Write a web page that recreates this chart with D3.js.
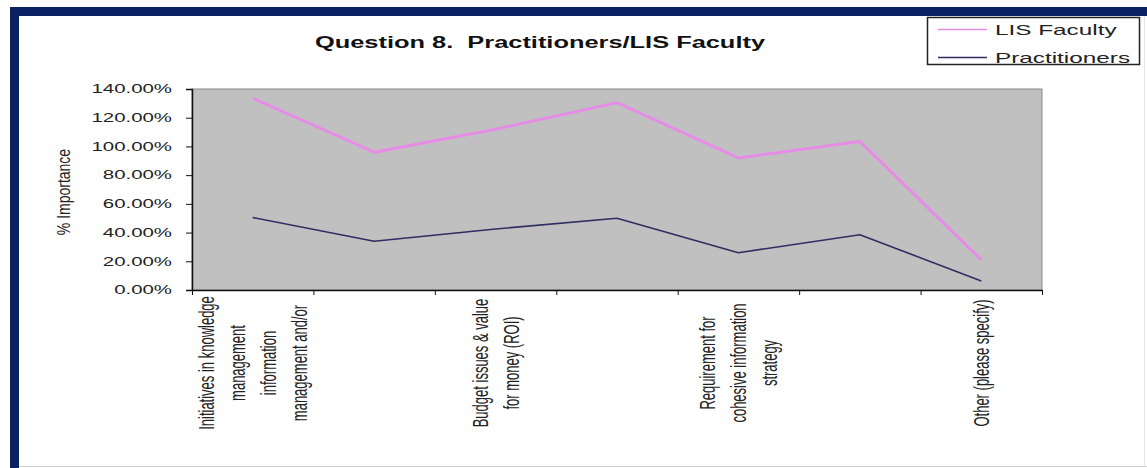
<!DOCTYPE html>
<html>
<head>
<meta charset="utf-8">
<script src="https://cdn.jsdelivr.net/npm/d3@7"></script>
<style>
  html, body { margin: 0; padding: 0; background: #fff; }
  svg { display: block; }
  text { font-family: "Liberation Sans", Arial, sans-serif; }
</style>
</head>
<body>
<svg id="chart" width="1147" height="468"></svg>
<script>
// ---- data ----
const title = "Question 8.  Practitioners/LIS Faculty";
const yAxisTitle = "% Importance";
const categoryLines = [
  ["Initiatives in knowledge", "management", "information", "management and/or"],
  [],
  ["Budget issues & value", "for money (ROI)"],
  [],
  ["Requirement for", "cohesive information", "strategy"],
  [],
  ["Other (please specify)"]
];
const seriesNames = ["LIS Faculty", "Practitioners"];
const lisFaculty    = [133.5, 96, 112, 130.5, 92, 103.5, 21];
const practitioners = [50.5, 34, 42.5, 50, 26, 38.5, 6.3];
const yTicks = [0, 20, 40, 60, 80, 100, 120, 140];

// ---- layout ----
const svg = d3.select("#chart");
const W = 1147, H = 468;
const plot = { left: 192, right: 1042, top: 89, bottom: 290 };
const colors = { lis: "#e68ce6", prac: "#2e2e62", navy: "#0b2262", plotBg: "#c0c0c0" };

function stretch(sel, k) {
  sel.each(function () {
    const L = this.getComputedTextLength();
    this.setAttribute("textLength", L * k);
    this.setAttribute("lengthAdjust", "spacingAndGlyphs");
  });
}

// frame
svg.append("rect").attr("x", 0).attr("y", 0).attr("width", W).attr("height", H).attr("fill", "#fff");
svg.append("rect").attr("x", 10).attr("y", 7).attr("width", W - 10).attr("height", 9).attr("fill", colors.navy);
svg.append("rect").attr("x", 10).attr("y", 7).attr("width", 9).attr("height", H - 7).attr("fill", colors.navy);
svg.append("line").attr("x1", 19).attr("x2", W).attr("y1", 466.5).attr("y2", 466.5).attr("stroke", "#cfcfcf");
svg.append("line").attr("x1", 1144.5).attr("x2", 1144.5).attr("y1", 16).attr("y2", 467).attr("stroke", "#e4e4e4");

// scales
const n = lisFaculty.length;
const x = d3.scaleBand().domain(d3.range(n)).range([plot.left, plot.right]).padding(0);
const y = d3.scaleLinear().domain([0, 140]).range([plot.bottom, plot.top]);
const cx = i => x(i) + x.bandwidth() / 2;

// plot area
svg.append("rect")
  .attr("x", plot.left).attr("y", plot.top)
  .attr("width", plot.right - plot.left).attr("height", plot.bottom - plot.top)
  .attr("fill", colors.plotBg).attr("stroke", "#8a8a8a").attr("stroke-width", 1);

// y axis
const yAxis = d3.axisLeft(y).tickValues(yTicks).tickSize(6).tickPadding(14)
  .tickFormat(d => d.toFixed(2) + "%");
const gy = svg.append("g").attr("transform", `translate(${plot.left},0)`).call(yAxis);
gy.select(".domain").attr("stroke", "#111").attr("stroke-width", 1.5);
gy.selectAll(".tick line").attr("stroke", "#111");
gy.selectAll(".tick text").attr("font-size", 12).attr("fill", "#222")
  .attr("font-family", "'Liberation Sans', Arial, sans-serif").call(stretch, 1.7);

// x axis (ticks at category boundaries)
const xTickVals = d3.range(n + 1).map(i => plot.left + i * x.bandwidth());
const xl = d3.scaleLinear().domain([plot.left, plot.right]).range([plot.left, plot.right]);
const gx = svg.append("g").attr("transform", `translate(0,${plot.bottom})`)
  .call(d3.axisBottom(xl).tickValues(xTickVals).tickSize(5).tickSizeOuter(0).tickFormat(""));
gx.select(".domain").attr("stroke", "#111").attr("stroke-width", 1.5);
gx.selectAll(".tick line").attr("stroke", "#111");

// category labels (rotated, wrapped)
const lineGap = 31, labelCenterY = 363;
categoryLines.forEach((lines, i) => {
  const m = lines.length;
  lines.forEach((t, j) => {
    const lx = cx(i) + (j - (m - 1) / 2) * lineGap;
    svg.append("text")
      .attr("transform", `translate(${lx},${labelCenterY}) rotate(-90) scale(1,1.7)`)
      .attr("text-anchor", "middle").attr("dy", "0.35em")
      .attr("font-size", 13).attr("fill", "#222")
      .text(t);
  });
});

// y axis title
svg.append("text")
  .attr("transform", `translate(64,192) rotate(-90) scale(1,1.3)`)
  .attr("text-anchor", "middle").attr("dy", "0.35em")
  .attr("font-size", 14).attr("fill", "#222")
  .text(yAxisTitle);

// lines
const lineGen = d3.line().x((d, i) => cx(i)).y(d => y(d));
svg.append("path").datum(lisFaculty).attr("d", lineGen)
  .attr("fill", "none").attr("stroke", colors.lis).attr("stroke-width", 3).attr("stroke-linejoin", "round");
svg.append("path").datum(practitioners).attr("d", lineGen)
  .attr("fill", "none").attr("stroke", colors.prac).attr("stroke-width", 1.6).attr("stroke-linejoin", "round");

// title
svg.append("text").attr("x", 540).attr("y", 48).attr("text-anchor", "middle")
  .attr("font-size", 16).attr("font-weight", "bold").attr("fill", "#111")
  .style("white-space", "pre").attr("xml:space", "preserve")
  .text(title)
  .attr("textLength", 450).attr("lengthAdjust", "spacingAndGlyphs");

// legend
const lg = svg.append("g");
lg.append("rect").attr("x", 927.5).attr("y", 17.5).attr("width", 212).attr("height", 47)
  .attr("fill", "#fff").attr("stroke", "#222").attr("stroke-width", 1.5);
const legendItems = [
  { name: seriesNames[0], color: colors.lis, w: 1.5, ly: 29.5, ty: 35 },
  { name: seriesNames[1], color: colors.prac, w: 1.5, ly: 57.5, ty: 63 }
];
legendItems.forEach(it => {
  lg.append("line").attr("x1", 938).attr("x2", 987).attr("y1", it.ly).attr("y2", it.ly)
    .attr("stroke", it.color).attr("stroke-width", it.w);
  lg.append("text").attr("x", 995).attr("y", it.ty).attr("font-size", 15).attr("fill", "#222")
    .text(it.name).call(stretch, 1.62);
});
</script>
</body>
</html>
